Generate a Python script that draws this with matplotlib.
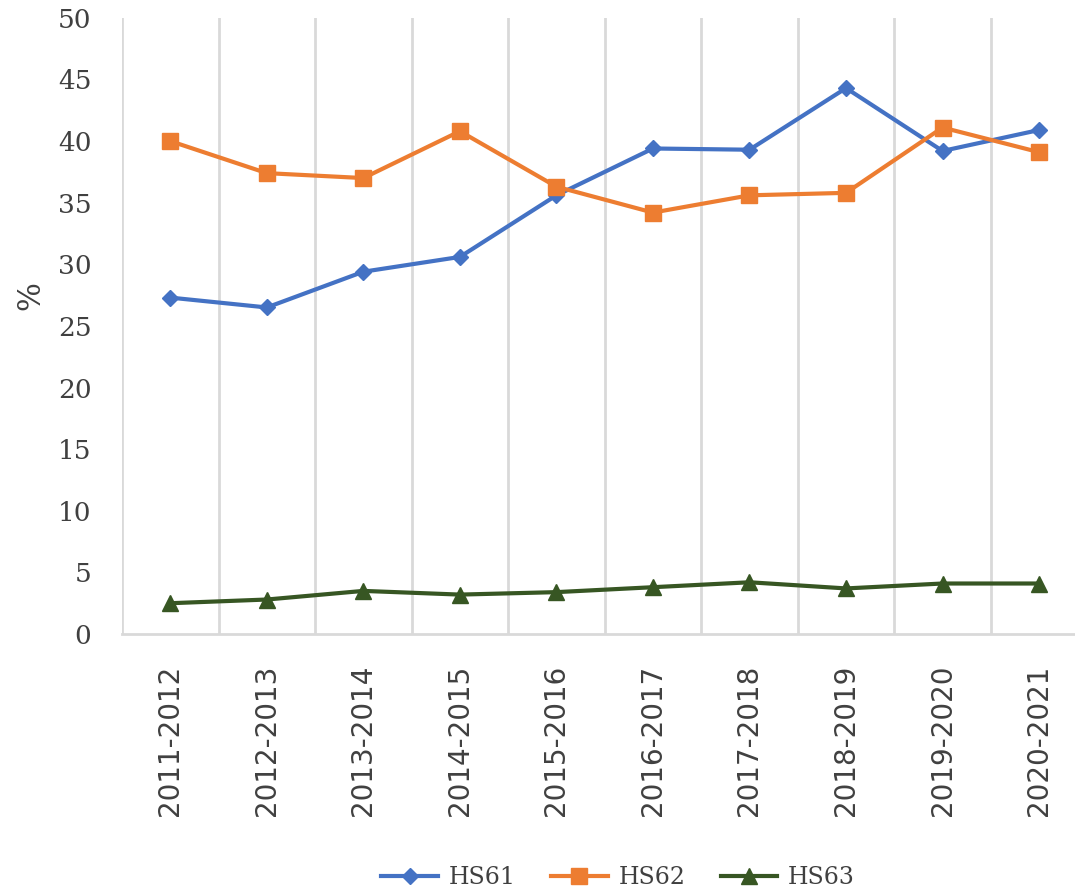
import matplotlib
matplotlib.use("Agg")
import matplotlib.pyplot as plt
import numpy as np

# export shares by chapter, percent
years = ['2011-2012', '2012-2013', '2013-2014', '2014-2015', '2015-2016',
         '2016-2017', '2017-2018', '2018-2019', '2019-2020', '2020-2021']
hs61 = [27.3, 26.5, 29.4, 30.6, 35.6, 39.4, 39.3, 44.3, 39.2, 40.9]
hs62 = [40.0, 37.4, 37.0, 40.8, 36.3, 34.2, 35.6, 35.8, 41.1, 39.1]
hs63 = [2.5, 2.8, 3.5, 3.2, 3.4, 3.8, 4.2, 3.7, 4.1, 4.1]

txt = '#404040'
grid = '#d9d9d9'

fig = plt.figure(figsize=(10.75, 8.93), dpi=100)
ax = fig.add_axes([0.1135, 0.290, 0.898, 0.690])

x = np.arange(len(years))
ax.plot(x, hs61, color='#4472C4', lw=3, marker='D', ms=8, label='HS61', zorder=3)
ax.plot(x, hs62, color='#ED7D31', lw=3, marker='s', ms=11, label='HS62', zorder=3)
ax.plot(x, hs63, color='#375623', lw=3, marker='^', ms=12, label='HS63', zorder=3)

ax.set_xlim(-0.5, len(years) - 0.5)
ax.set_ylim(0, 50)
ax.set_yticks(np.arange(0, 51, 5))
ax.set_xticks(x)
ax.set_xticklabels(years, rotation=90, family='DejaVu Sans', fontsize=20, color=txt)
ax.set_xticks(np.arange(-0.5, len(years), 1), minor=True)
ax.grid(True, which='minor', axis='x', color=grid, lw=2)
ax.tick_params(axis='x', which='both', length=0, pad=22)
ax.tick_params(axis='y', length=0, pad=22, labelsize=19, labelcolor=txt)
for lab in ax.get_yticklabels():
    lab.set_family('DejaVu Serif')

for s in ['top', 'right', 'left']:
    ax.spines[s].set_visible(False)
ax.spines['bottom'].set_color(grid)
ax.spines['bottom'].set_linewidth(2)

ax.set_ylabel('%', family='DejaVu Serif', fontsize=22, color=txt)
ax.yaxis.set_label_coords(-0.078, 0.55)

fig.legend(loc='center', bbox_to_anchor=(0.575, 0.017), ncol=3, frameon=False,
           prop={'family': 'DejaVu Serif', 'size': 17}, labelcolor=txt,
           handlelength=2.4, handletextpad=0.45, columnspacing=1.5)

fig.savefig('out.png', dpi=100)
